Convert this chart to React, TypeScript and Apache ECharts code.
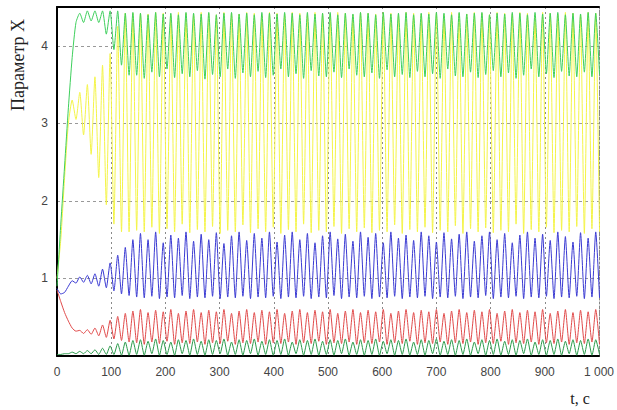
import React, { useEffect, useRef } from "react";
import * as echarts from "echarts";

// time step between successive extrema samples (t, c)
const T_STEP = 7;

const xTicks = [0, 100, 200, 300, 400, 500, 600, 700, 800, 900, 1000];
const yTicks = [1, 2, 3, 4];

// light green
const seriesG = [
  0.9, 1.7, 2.45, 3.2, 3.85, 4.3, 4.42, 4.3, 4.45, 4.32, 4.45, 4.3, 4.45, 4.15, 4.45, 3.95, 4.45, 3.75, 4.42, 3.62, 4.43,
  3.62, 4.42, 3.58, 4.4, 3.66, 4.43, 3.6, 4.41, 3.7, 4.42, 3.59, 4.4, 3.64, 4.43, 3.6, 4.42, 3.68, 4.41, 3.57, 4.43,
  3.63, 4.4, 3.6, 4.42, 3.7, 4.43, 3.58, 4.41, 3.65, 4.42, 3.6, 4.4, 3.67, 4.43, 3.59, 4.42, 3.62, 4.41, 3.7, 4.43,
  3.6, 4.42, 3.64, 4.4, 3.58, 4.43, 3.68, 4.41, 3.61, 4.42, 3.6, 4.43, 3.66, 4.4, 3.59, 4.42, 3.7, 4.41, 3.62, 4.43,
  3.6, 4.42, 3.65, 4.4, 3.58, 4.43, 3.69, 4.41, 3.6, 4.42, 3.63, 4.43, 3.59, 4.4, 3.67, 4.42, 3.6, 4.41, 3.64, 4.43,
  3.58, 4.42, 3.7, 4.4, 3.61, 4.43, 3.6, 4.41, 3.66, 4.42, 3.59, 4.43, 3.63, 4.4, 3.68, 4.42, 3.6, 4.41, 3.65, 4.43,
  3.58, 4.42, 3.62, 4.4, 3.7, 4.43, 3.6, 4.41, 3.64, 4.42, 3.59, 4.43, 3.67, 4.4, 3.61, 4.42, 3.6, 4.41, 3.66, 4.43,
  3.6, 4.42, 3.63,
];

// yellow
const seriesY = [
  1.0, 1.5, 2.3, 3.0, 3.3, 3.05, 3.4, 2.85, 3.5, 2.6, 3.6, 2.3, 3.75, 1.95, 3.9, 1.7, 4.25, 1.6, 4.42, 1.6, 4.42,
  1.62, 4.42, 1.6, 4.41, 1.66, 4.43, 1.58, 4.42, 1.64, 4.4, 1.6, 4.43, 1.7, 4.42, 1.59, 4.41, 1.63, 4.43, 1.6, 4.42,
  1.67, 4.4, 1.58, 4.43, 1.62, 4.42, 1.6, 4.41, 1.69, 4.43, 1.59, 4.42, 1.64, 4.4, 1.6, 4.43, 1.66, 4.42, 1.58, 4.41,
  1.63, 4.43, 1.6, 4.42, 1.7, 4.4, 1.59, 4.43, 1.62, 4.42, 1.6, 4.41, 1.67, 4.43, 1.58, 4.42, 1.64, 4.4, 1.6, 4.43,
  1.65, 4.42, 1.59, 4.41, 1.62, 4.43, 1.6, 4.42, 1.69, 4.4, 1.58, 4.43, 1.63, 4.42, 1.6, 4.41, 1.66, 4.43, 1.59, 4.42,
  1.62, 4.4, 1.6, 4.43, 1.68, 4.42, 1.58, 4.41, 1.64, 4.43, 1.6, 4.42, 1.65, 4.4, 1.59, 4.43, 1.62, 4.42, 1.6, 4.41,
  1.7, 4.43, 1.58, 4.42, 1.63, 4.4, 1.6, 4.43, 1.66, 4.42, 1.59, 4.41, 1.62, 4.43, 1.6, 4.42, 1.67, 4.4, 1.58, 4.43,
  1.64, 4.42, 1.6,
];

// blue
const seriesB = [
  0.87, 0.8, 0.82, 0.9, 0.97, 0.94, 1.02, 0.95, 1.04, 0.93, 1.06, 0.9, 1.12, 0.88, 1.2, 0.84, 1.3, 0.8, 1.4, 0.78, 1.5,
  0.76, 1.58, 0.75, 1.5, 0.77, 1.6, 0.74, 1.46, 0.76, 1.56, 0.75, 1.52, 0.78, 1.6, 0.74, 1.48, 0.76, 1.57, 0.75, 1.5,
  0.77, 1.59, 0.74, 1.45, 0.76, 1.55, 0.75, 1.6, 0.77, 1.49, 0.74, 1.58, 0.76, 1.52, 0.75, 1.6, 0.77, 1.47, 0.74, 1.56,
  0.76, 1.6, 0.75, 1.5, 0.77, 1.58, 0.74, 1.46, 0.76, 1.55, 0.75, 1.6, 0.78, 1.51, 0.74, 1.57, 0.76, 1.48, 0.75, 1.6,
  0.77, 1.53, 0.74, 1.58, 0.76, 1.46, 0.75, 1.6, 0.77, 1.52, 0.74, 1.56, 0.76, 1.49, 0.75, 1.6, 0.77, 1.55, 0.74, 1.47,
  0.76, 1.59, 0.75, 1.51, 0.77, 1.57, 0.74, 1.6, 0.76, 1.48, 0.75, 1.55, 0.78, 1.6, 0.74, 1.5, 0.76, 1.58, 0.75, 1.46,
  0.77, 1.56, 0.74, 1.6, 0.76, 1.52, 0.75, 1.57, 0.77, 1.49, 0.74, 1.6, 0.76, 1.54, 0.75, 1.47, 0.77, 1.59, 0.74, 1.52,
  0.76, 1.6, 0.75,
];

// red
const seriesR = [
  0.85, 0.7, 0.56, 0.45, 0.36, 0.32, 0.33, 0.29, 0.34, 0.28, 0.36, 0.26, 0.4, 0.24, 0.46, 0.22, 0.51, 0.2, 0.55, 0.18, 0.58,
  0.17, 0.6, 0.15, 0.56, 0.18, 0.59, 0.16, 0.57, 0.19, 0.6, 0.15, 0.55, 0.17, 0.58, 0.16, 0.6, 0.18, 0.56, 0.15, 0.59,
  0.17, 0.57, 0.16, 0.6, 0.19, 0.55, 0.15, 0.58, 0.17, 0.6, 0.16, 0.56, 0.18, 0.59, 0.15, 0.57, 0.17, 0.6, 0.16, 0.55,
  0.18, 0.58, 0.15, 0.6, 0.17, 0.56, 0.16, 0.59, 0.19, 0.57, 0.15, 0.6, 0.17, 0.55, 0.16, 0.58, 0.18, 0.6, 0.15, 0.56,
  0.17, 0.59, 0.16, 0.57, 0.18, 0.6, 0.15, 0.55, 0.17, 0.58, 0.16, 0.6, 0.19, 0.56, 0.15, 0.59, 0.17, 0.57, 0.16, 0.6,
  0.18, 0.55, 0.15, 0.58, 0.17, 0.6, 0.16, 0.56, 0.18, 0.59, 0.15, 0.57, 0.17, 0.6, 0.16, 0.55, 0.19, 0.58, 0.15, 0.6,
  0.17, 0.56, 0.16, 0.59, 0.18, 0.57, 0.15, 0.6, 0.17, 0.55, 0.16, 0.58, 0.18, 0.6, 0.15, 0.56, 0.17, 0.59, 0.16, 0.57,
  0.18, 0.6, 0.15,
];

// dark green
const seriesD = [
  0.02, 0.02, 0.03, 0.03, 0.05, 0.03, 0.06, 0.03, 0.07, 0.03, 0.08, 0.02, 0.1, 0.02, 0.13, 0.02, 0.16, 0.01, 0.18, 0.01, 0.2,
  0.02, 0.21, 0.01, 0.19, 0.03, 0.22, 0.01, 0.2, 0.02, 0.18, 0.01, 0.21, 0.03, 0.2, 0.01, 0.22, 0.02, 0.19, 0.01, 0.21,
  0.02, 0.2, 0.03, 0.22, 0.01, 0.18, 0.02, 0.21, 0.01, 0.2, 0.03, 0.22, 0.01, 0.19, 0.02, 0.21, 0.01, 0.2, 0.02, 0.22,
  0.01, 0.18, 0.03, 0.21, 0.01, 0.2, 0.02, 0.22, 0.01, 0.19, 0.02, 0.21, 0.01, 0.2, 0.03, 0.22, 0.01, 0.18, 0.02, 0.21,
  0.01, 0.2, 0.02, 0.22, 0.01, 0.19, 0.03, 0.21, 0.01, 0.2, 0.02, 0.22, 0.01, 0.18, 0.02, 0.21, 0.01, 0.2, 0.03, 0.22,
  0.01, 0.19, 0.02, 0.21, 0.01, 0.2, 0.02, 0.22, 0.01, 0.18, 0.03, 0.21, 0.01, 0.2, 0.02, 0.22, 0.01, 0.19, 0.02, 0.21,
  0.01, 0.2, 0.03, 0.22, 0.01, 0.18, 0.02, 0.21, 0.01, 0.2, 0.02, 0.22, 0.01, 0.19, 0.03, 0.21, 0.01, 0.2, 0.02, 0.22,
  0.01, 0.21, 0.02,
];

const toPairs = (vals: number[]) => vals.map((v, i) => [i * T_STEP, v]);

export default function App() {
  const ref = useRef<HTMLDivElement>(null);
  useEffect(() => {
    if (!ref.current) return;
    const chart = echarts.init(ref.current, null, { renderer: "svg" });
    const labelStyle = { color: "#444", fontSize: 12, fontFamily: "Liberation Sans, Arial, sans-serif" };
    const line = (name: string, vals: number[], color: string) => ({
      name,
      type: "line",
      data: toPairs(vals),
      showSymbol: false,
      symbol: "none",
      lineStyle: { color, width: 1 },
      smooth: 0.2,
      z: 3,
    });
    chart.setOption({
      animation: false,
      backgroundColor: "#ffffff",
      grid: { left: 57, right: 14, top: 7, bottom: 54, containLabel: false },
      xAxis: [
        {
          type: "value",
          min: xTicks[0],
          max: xTicks[xTicks.length - 1],
          interval: 100,
          axisLine: { show: true, onZero: false, lineStyle: { color: "#000", width: 2 } },
          axisTick: { show: false },
          axisLabel: {
            ...labelStyle,
            margin: 10,
            formatter: (v: number) => (v === 1000 ? "1 000" : String(v)),
          },
          splitLine: { show: true, lineStyle: { color: "#8a8a8a", type: [2, 3], width: 1 } },
        },
        {
          type: "value",
          position: "top",
          min: 0,
          max: 1000,
          axisLine: { show: true, onZero: false, lineStyle: { color: "#000", width: 2 } },
          axisTick: { show: false },
          axisLabel: { show: false },
          splitLine: { show: false },
        },
      ],
      yAxis: [
        {
          type: "value",
          min: 0,
          max: 4.5,
          interval: 1,
          axisLine: { show: true, onZero: false, lineStyle: { color: "#000", width: 2 } },
          axisTick: { show: false },
          axisLabel: {
            ...labelStyle,
            margin: 9,
            formatter: (v: number) => (yTicks.indexOf(v) >= 0 ? String(v) : ""),
          },
          splitLine: { show: true, lineStyle: { color: "#999", type: [3, 3], width: 1 } },
        },
        {
          type: "value",
          position: "right",
          min: 0,
          max: 4.5,
          interval: 1,
          axisLine: { show: true, onZero: false, lineStyle: { color: "#888", type: [2, 2], width: 1 } },
          axisTick: { show: false },
          axisLabel: { show: false },
          splitLine: { show: false },
        },
      ],
      series: [
        line("Y", seriesY, "#f4f448"),
        line("G", seriesG, "#3ecf5c"),
        line("B", seriesB, "#3a3ad2"),
        line("R", seriesR, "#e04a4a"),
        line("D", seriesD, "#2a9a4a"),
      ],
      graphic: [
        {
          type: "text",
          x: 18,
          y: 65,
          rotation: Math.PI / 2,
          style: {
            text: "Параметр X",
            fontFamily: "Liberation Serif, Times New Roman, serif",
            fontSize: 18,
            fill: "#222",
            textAlign: "center",
            textVerticalAlign: "middle",
          },
        },
        {
          type: "text",
          x: 580,
          y: 398,
          style: {
            text: "t, c",
            fontFamily: "Liberation Serif, Times New Roman, serif",
            fontSize: 16,
            fill: "#222",
            textAlign: "center",
            textVerticalAlign: "middle",
          },
        },
      ],
    });
    return () => chart.dispose();
  }, []);
  return (
    <div
      ref={ref}
      style={{ position: "fixed", left: 0, top: 0, width: 617, height: 410, background: "#fff" }}
    />
  );
}
